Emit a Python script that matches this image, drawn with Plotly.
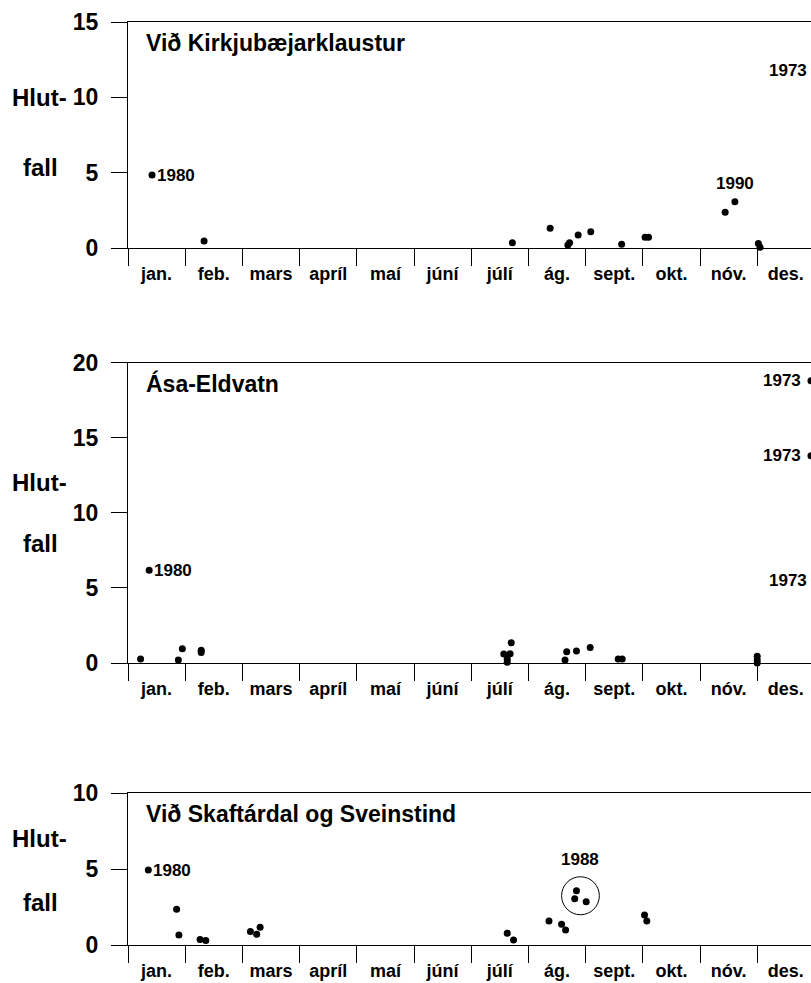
import plotly.graph_objects as go

# ---------------- data ----------------
months = ["jan.", "feb.", "mars", "apríl", "maí", "júní", "júlí", "ág.", "sept.", "okt.", "nóv.", "des."]
panel_titles = ["Við Kirkjubæjarklaustur", "Ása-Eldvatn", "Við Skaftárdal og Sveinstind"]

# x = time of year in months (0 = start of January), y = Hlutfall
kirkju_x = [0.42, 1.33, 6.72, 7.38, 7.69, 7.72, 7.87, 8.09, 8.63, 9.04, 9.10, 10.44, 10.61, 11.02, 11.05, 12.10]
kirkju_y = [4.84, 0.46, 0.35, 1.31, 0.20, 0.35, 0.86, 1.08, 0.25, 0.71, 0.71, 2.37, 3.07, 0.30, 0.05, 11.8]

asa_x = [0.22, 0.37, 0.88, 0.95, 1.28, 1.28, 6.57, 6.68, 6.63, 6.63, 6.70, 7.64, 7.67, 7.84, 8.08,
         8.57, 8.64, 11.00, 11.00, 11.00, 11.94, 11.94, 12.05, 11.97]
asa_y = [0.27, 6.18, 0.20, 0.95, 0.70, 0.85, 0.60, 0.62, 0.25, 0.05, 1.35, 0.20, 0.75, 0.80, 1.04,
         0.26, 0.26, 0.45, 0.20, 0.00, 18.8, 13.8, 5.5, 0.86]

skaft_x = [0.355, 0.85, 0.89, 1.26, 1.36, 2.14, 2.25, 2.31, 6.63, 6.74, 7.36, 7.58, 7.65, 7.81, 7.84, 8.01, 9.03, 9.07]
skaft_y = [4.93, 2.35, 0.66, 0.37, 0.30, 0.88, 0.70, 1.16, 0.77, 0.33, 1.58, 1.36, 0.99, 3.05, 3.57, 2.85, 1.97, 1.58]

y_max = [15, 20, 10]
y_ticks = [[0, 5, 10, 15], [0, 5, 10, 15, 20], [0, 5, 10]]

# year labels: (panel, x, y, text, anchor)
year_labels = [
    (0, 0.42, 4.84, "1980", "left"),
    (0, 10.61, 4.25, "1990", "center"),
    (0, 11.905, 11.8, "1973", "right"),
    (1, 0.37, 6.18, "1980", "left"),
    (1, 11.80, 18.8, "1973", "right"),
    (1, 11.80, 13.8, "1973", "right"),
    (1, 11.90, 5.5, "1973", "right"),
    (2, 0.355, 4.93, "1980", "left"),
    (2, 7.91, 5.6, "1988", "center"),
]
# circled 1988 group (centre x, centre y, half-width in months, half-height in units)
circle_1988 = (7.91, 3.24, 0.33, 1.25)

# ---------------- layout ----------------
W, H = 811, 983
FONT = "Liberation Sans, Arial, Helvetica, sans-serif"
X0_PX = 128
MONTH_PX = 57.2
x_range = [0, (W - X0_PX) / MONTH_PX]
# panel pixel extents (top, bottom)
panel_px = [(22, 248), (362.7, 663), (793, 945)]

series = [(kirkju_x, kirkju_y), (asa_x, asa_y), (skaft_x, skaft_y)]

fig = go.Figure()
layout = dict(
    width=W, height=H,
    margin=dict(l=0, r=0, t=0, b=0, pad=0),
    paper_bgcolor="white", plot_bgcolor="white",
    showlegend=False,
    font=dict(family=FONT, color="black"),
)
annotations = []
shapes = []

for i, (xs, ys) in enumerate(series):
    n = "" if i == 0 else str(i + 1)
    fig.add_trace(go.Scatter(
        x=xs, y=ys, mode="markers", xaxis="x" + n, yaxis="y" + n,
        marker=dict(color="black", size=7), cliponaxis=False, hoverinfo="skip",
    ))
    top, bot = panel_px[i]
    layout["xaxis" + n] = dict(
        domain=[X0_PX / W, 1], anchor="y" + n, range=x_range,
        showline=True, linecolor="black", linewidth=1.3, mirror=True,
        showgrid=False, zeroline=False, automargin=False,
        tickmode="array", tickvals=[k + 0.5 for k in range(12)], ticktext=months,
        ticks="outside", ticklen=9, tickcolor="rgba(0,0,0,0)",
        tickfont=dict(family=FONT, size=18, color="black", weight="bold"),
        minor=dict(tickmode="array", tickvals=list(range(13)), ticks="outside",
                   ticklen=17, tickcolor="black", tickwidth=1, showgrid=False),
    )
    layout["yaxis" + n] = dict(
        domain=[1 - bot / H, 1 - top / H], anchor="x" + n, range=[0, y_max[i]],
        showline=True, linecolor="black", linewidth=1.3,
        showgrid=False, zeroline=False, automargin=False,
        tickmode="array", tickvals=y_ticks[i],
        ticks="outside", ticklen=16, tickcolor="black", tickwidth=1.3,
        ticklabelstandoff=8,
        tickfont=dict(family=FONT, size=23, color="black", weight="bold"),
    )
    # panel title
    annotations.append(dict(
        xref="x" + n, yref="y" + n, x=0.28, y=y_max[i], yshift=-21,
        text=panel_titles[i], showarrow=False, xanchor="left", yanchor="middle",
        font=dict(family=FONT, size=23, color="black", weight="bold"),
    ))

for (p, x, y, t, anc) in year_labels:
    n = "" if p == 0 else str(p + 1)
    annotations.append(dict(
        xref="x" + n, yref="y" + n, x=x, y=y, text=t, showarrow=False,
        xanchor=anc, yanchor="middle", xshift=3 if anc == "left" else 0,
        font=dict(family=FONT, size=17, color="black", weight="bold"),
    ))

# "Hlut-" / "fall" axis titles
hlut_px = [(97, 168), (483, 543), (838, 902)]
for (yh, yf) in hlut_px:
    annotations.append(dict(xref="paper", yref="paper", x=39 / W, y=1 - yh / H, text="Hlut-",
                            showarrow=False, xanchor="center", yanchor="middle",
                            font=dict(family=FONT, size=24, color="black", weight="bold")))
    annotations.append(dict(xref="paper", yref="paper", x=40 / W, y=1 - yf / H, text="fall",
                            showarrow=False, xanchor="center", yanchor="middle",
                            font=dict(family=FONT, size=24, color="black", weight="bold")))

cx, cy, rx, ry = circle_1988
shapes.append(dict(type="circle", xref="x3", yref="y3", x0=cx - rx, x1=cx + rx, y0=cy - ry, y1=cy + ry,
                   line=dict(color="black", width=1)))

layout["annotations"] = annotations
layout["shapes"] = shapes
fig.update_layout(**layout)
fig.write_html("out.html", config={"displayModeBar": False},
               post_script="document.body.style.margin='0';document.body.style.overflow='hidden';")
